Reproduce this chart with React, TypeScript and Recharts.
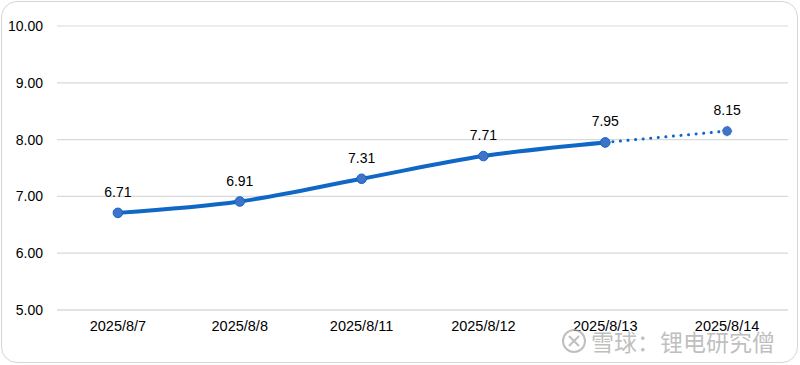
import React from 'react';
import { LineChart, Line, XAxis, YAxis, CartesianGrid, LabelList } from 'recharts';

const categories = ['2025/8/7', '2025/8/8', '2025/8/11', '2025/8/12', '2025/8/13', '2025/8/14'];
const actual = [6.71, 6.91, 7.31, 7.71, 7.95, null];
const forecast = [null, null, null, null, 7.95, 8.15];
const yTicks = [5, 6, 7, 8, 9, 10];
const edgeTicks = [-0.5, 0.5, 1.5, 2.5, 3.5, 4.5, 5.5];

const data = categories.map((c, i) => ({ i, name: c, actual: actual[i], forecast: forecast[i] }));

const FONT = '"Liberation Sans", Arial, sans-serif';
const BLUE = '#0f67c6';
const DOT = '#3f73c8';

export default function App() {
  return (
    <div style={{ position: 'fixed', left: 0, top: 0, width: 800, height: 365, background: '#fff', fontFamily: FONT }}>
      <div style={{ position: 'absolute', left: 1, top: 1, width: 795, height: 360, border: '1.5px solid #d6d6d6', borderRadius: 16 }} />
      <LineChart width={800} height={365} data={data} margin={{ top: 26, right: 12, left: 0, bottom: 25 }}>
        <CartesianGrid vertical={false} stroke="#d9d9d9" strokeWidth={1.2} />
        <XAxis
          xAxisId="edge"
          type="number"
          dataKey="i"
          domain={[-0.5, 5.5]}
          ticks={edgeTicks}
          tick={false}
          tickLine={{ stroke: '#d0d0d0' }}
          tickSize={4}
          axisLine={{ stroke: '#d9d9d9' }}
          height={5}
          allowDataOverflow
        />
        <XAxis
          xAxisId="main"
          type="number"
          dataKey="i"
          domain={[-0.5, 5.5]}
          ticks={[0, 1, 2, 3, 4, 5]}
          tickFormatter={(v: number) => categories[v]}
          tick={{ fill: '#000', fontSize: 14.5, fontFamily: FONT }}
          tickLine={false}
          axisLine={false}
          height={25}
          tickMargin={0}
          allowDataOverflow
        />
        <YAxis
          domain={[5, 10]}
          ticks={yTicks}
          tickFormatter={(v: number) => v.toFixed(2)}
          tick={{ fill: '#000', fontSize: 14, fontFamily: FONT }}
          tickLine={false}
          axisLine={false}
          width={57}
          tickMargin={8}
        />
        <Line
          xAxisId="main"
          type="monotone"
          dataKey="forecast"
          stroke={BLUE}
          strokeWidth={3}
          strokeDasharray="0.1 7.5"
          strokeLinecap="round"
          dot={{ r: 4.8, fill: DOT, stroke: BLUE, strokeWidth: 1 }}
          isAnimationActive={false}
          connectNulls={false}
        >
          <LabelList
            dataKey="forecast"
            position="top"
            offset={16}
            fill="#000"
            fontSize={14}
            fontFamily={FONT}
            formatter={(v: any) => (v === 8.15 ? v.toFixed(2) : '')}
          />
        </Line>
        <Line
          xAxisId="main"
          type="monotone"
          dataKey="actual"
          stroke={BLUE}
          strokeWidth={4}
          dot={{ r: 4.8, fill: DOT, stroke: BLUE, strokeWidth: 1 }}
          isAnimationActive={false}
          connectNulls={false}
        >
          <LabelList
            dataKey="actual"
            position="top"
            offset={16}
            fill="#000"
            fontSize={14}
            fontFamily={FONT}
            formatter={(v: any) => (v == null ? '' : Number(v).toFixed(2))}
          />
        </Line>
      </LineChart>
      <div
        style={{
          position: 'absolute',
          left: 561,
          top: 328,
          display: 'flex',
          alignItems: 'center',
          gap: 4,
          color: 'rgba(170,170,170,0.75)',
          fontSize: 23,
          fontFamily: '"Noto Sans CJK SC", sans-serif',
          lineHeight: '26px',
          pointerEvents: 'none',
        }}
      >
        <svg width={26} height={26} viewBox="0 0 26 26">
          <circle cx={13} cy={13} r={11} fill="none" stroke="rgba(170,170,170,0.75)" strokeWidth={2} />
          <path d="M8 8 L18 18 M18 8 L8 18" stroke="rgba(170,170,170,0.75)" strokeWidth={2} />
        </svg>
        <span>雪球：锂电研究僧</span>
      </div>
    </div>
  );
}
